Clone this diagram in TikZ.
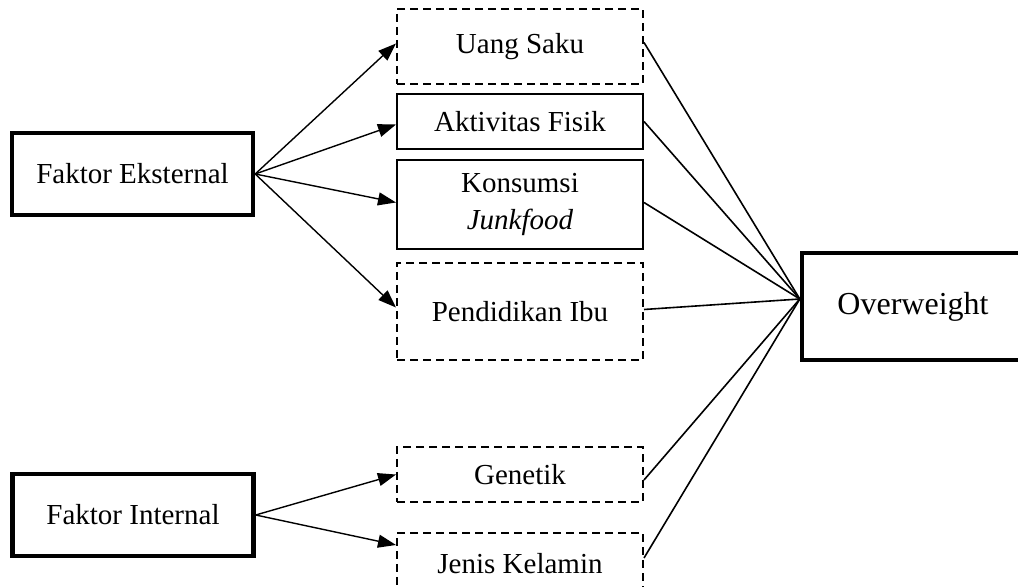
\documentclass[tikz,border=0pt]{standalone}
\usepackage{fontspec}
\setmainfont{Liberation Serif}
\usetikzlibrary{arrows.meta,calc}
\begin{document}
\begin{tikzpicture}[x=0.5pt,y=-0.5pt,
  every node/.style={font=\fontsize{14.5}{18.5}\selectfont, inner sep=0pt, align=center},
  thickbox/.style={draw, line width=2.2pt, minimum width=120.5pt, minimum height=41pt},
  solidbox/.style={draw, line width=1pt, minimum width=123pt},
  dashbox/.style={draw, line width=1pt, dash pattern=on 4pt off 2.5pt, minimum width=123pt},
  arr/.style={line width=0.7pt, -{Triangle[length=9pt,width=6.5pt]}},
  link/.style={line width=0.8pt}]
\useasboundingbox (0,0) rectangle (1018,587);
\clip (0,0) rectangle (1018,587);
% left factors
\node[thickbox] (fe) at (132.5,174) {Faktor Eksternal};
\node[thickbox] (fi) at (133,515) {Faktor Internal};
% middle boxes
\node[dashbox, minimum height=37.5pt] (us) at (520,46.5) {Uang Saku};
\node[solidbox, minimum height=27.5pt] (akt) at (520,121.5) {Aktivitas Fisik};
\node[solidbox, minimum height=44.5pt] (kons) at (520,204.5) {Konsumsi\\\textit{Junkfood}};
\node[dashbox, minimum height=48.5pt] (pend) at (520,311.5) {Pendidikan Ibu};
\node[dashbox, minimum height=27.5pt] (gen) at (520,474.5) {Genetik};
\node[dashbox, minimum height=31pt] (jk) at (520,564) {Jenis Kelamin};
% outcome
\node[draw, line width=2.2pt, minimum width=111pt, minimum height=53.5pt,
      font=\fontsize{16}{19}\selectfont] (ow) at (913,306.5) {Overweight};
\coordinate (owin) at ([yshift=3.75pt]ow.west);
% arrows from factors
\draw[arr] (fe.east) -- ([yshift=1.5pt]us.west);
\draw[arr] (fe.east) -- ([yshift=-1.5pt]akt.west);
\draw[arr] (fe.east) -- ([yshift=1pt]kons.west);
\draw[arr] (fe.east) -- ([yshift=2pt]pend.west);
\draw[arr] (fi.east) -- (gen.west);
\draw[arr] (fi.east) -- ([yshift=9.5pt]jk.west);
% links to outcome
\draw[link] ([yshift=2pt]us.east) -- (owin);
\draw[link] (akt.east) -- (owin);
\draw[link] ([yshift=1pt]kons.east) -- (owin);
\draw[link] ([yshift=1pt]pend.east) -- (owin);
\draw[link] ([yshift=-2.75pt]gen.east) -- (owin);
\draw[link] ([yshift=3pt]jk.east) -- (owin);
\end{tikzpicture}
\end{document}
